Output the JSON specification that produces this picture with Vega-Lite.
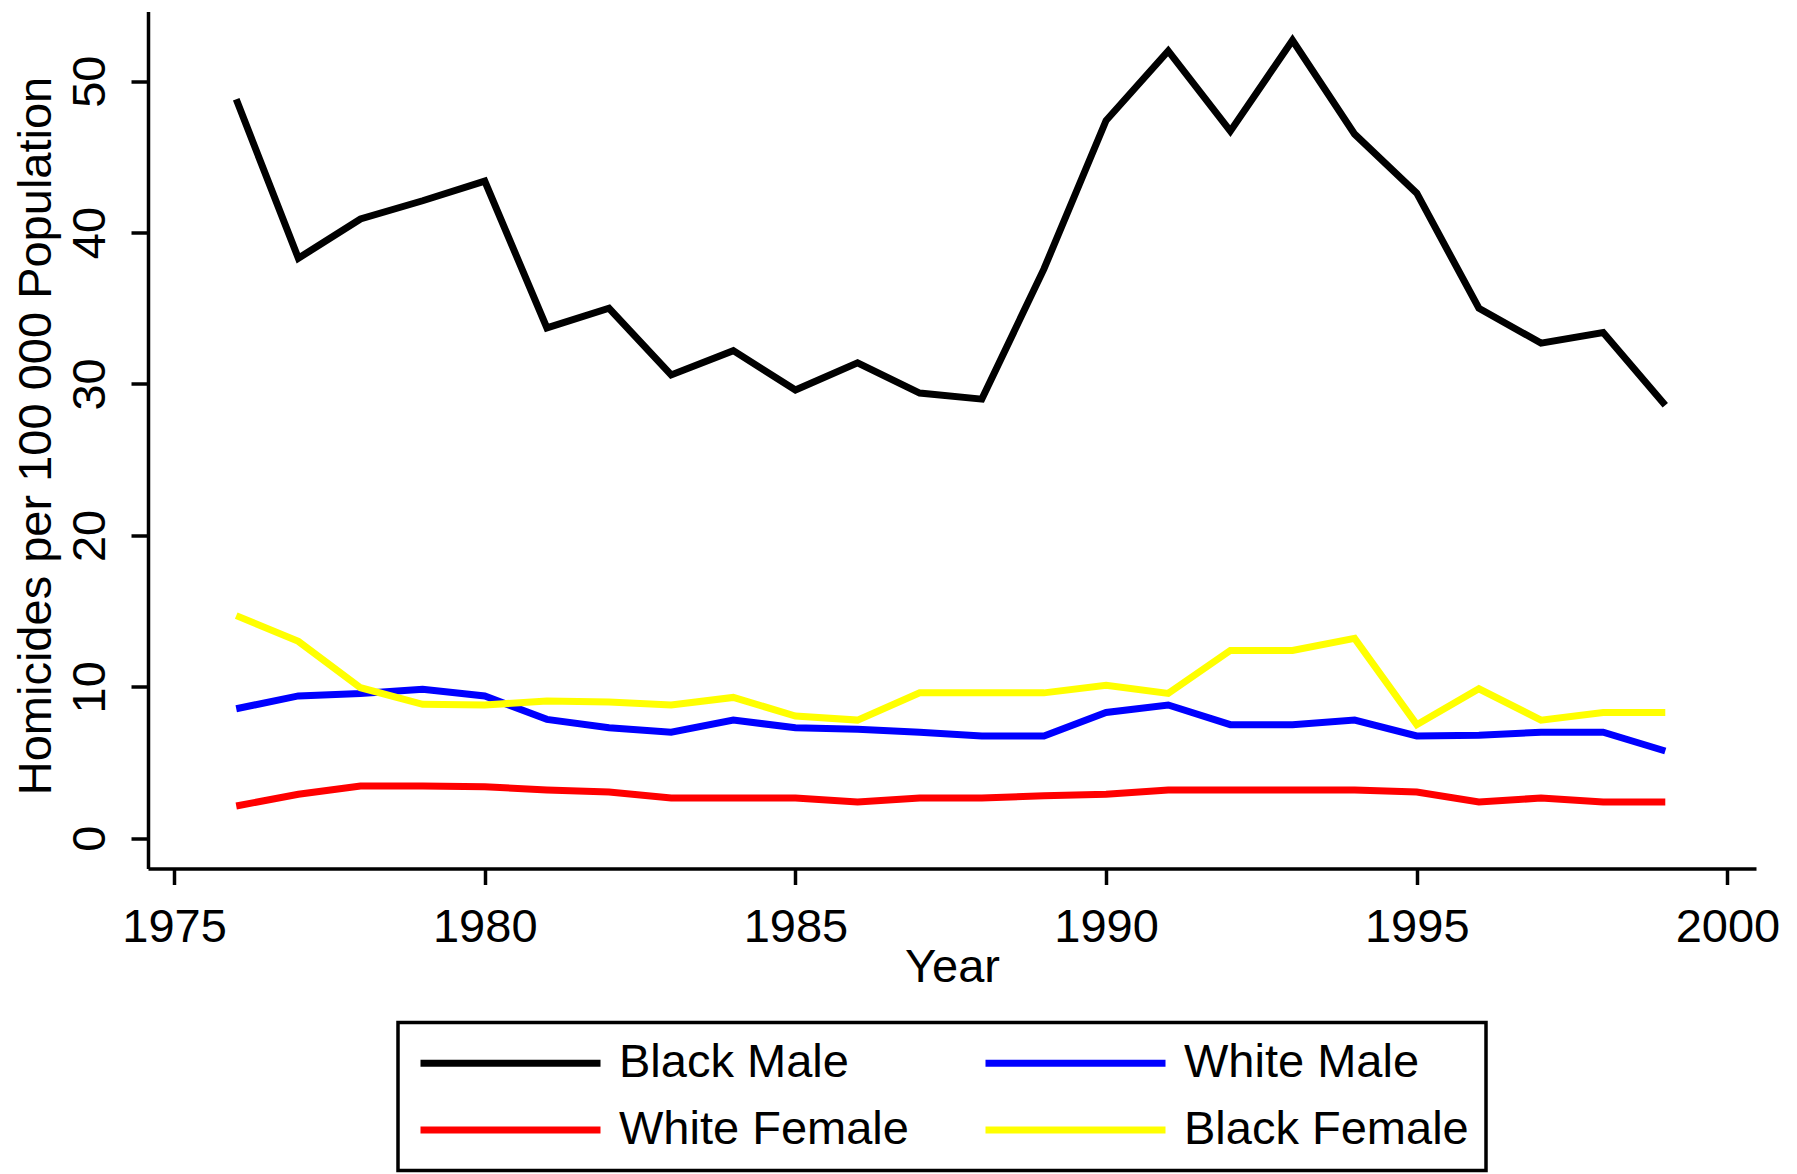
{
  "$schema": "https://vega.github.io/schema/vega-lite/v6.json",
  "autosize": {"type": "none"},
  "padding": {"left": 148, "top": 11.5, "right": 41, "bottom": 305.5},
  "width": 1608,
  "height": 857,
  "background": "white",
  "config": {
    "view": {"stroke": null},
    "font": "Liberation Sans",
    "axis": {"grid": false, "domainColor": "black", "tickColor": "black", "labelColor": "black", "titleColor": "black", "domainWidth": 3.5, "tickWidth": 3.5, "labelFont": "Liberation Sans", "titleFont": "Liberation Sans", "labelFontSize": 47, "titleFontSize": 47, "titleFontWeight": "normal"},
    "legend": {"strokeWidth": 3.5}
  },
  "data": {"values": [
    {"year": 1976, "group": "Black Male", "value": 48.8},
    {"year": 1977, "group": "Black Male", "value": 38.3},
    {"year": 1978, "group": "Black Male", "value": 40.9},
    {"year": 1979, "group": "Black Male", "value": 42.1},
    {"year": 1980, "group": "Black Male", "value": 43.4},
    {"year": 1981, "group": "Black Male", "value": 33.7},
    {"year": 1982, "group": "Black Male", "value": 35.0},
    {"year": 1983, "group": "Black Male", "value": 30.6},
    {"year": 1984, "group": "Black Male", "value": 32.2},
    {"year": 1985, "group": "Black Male", "value": 29.6},
    {"year": 1986, "group": "Black Male", "value": 31.4},
    {"year": 1987, "group": "Black Male", "value": 29.4},
    {"year": 1988, "group": "Black Male", "value": 29.0},
    {"year": 1989, "group": "Black Male", "value": 37.6},
    {"year": 1990, "group": "Black Male", "value": 47.4},
    {"year": 1991, "group": "Black Male", "value": 52.0},
    {"year": 1992, "group": "Black Male", "value": 46.7},
    {"year": 1993, "group": "Black Male", "value": 52.7},
    {"year": 1994, "group": "Black Male", "value": 46.5},
    {"year": 1995, "group": "Black Male", "value": 42.6},
    {"year": 1996, "group": "Black Male", "value": 35.0},
    {"year": 1997, "group": "Black Male", "value": 32.7},
    {"year": 1998, "group": "Black Male", "value": 33.4},
    {"year": 1999, "group": "Black Male", "value": 28.6},
    {"year": 1976, "group": "White Male", "value": 8.55},
    {"year": 1977, "group": "White Male", "value": 9.4},
    {"year": 1978, "group": "White Male", "value": 9.56},
    {"year": 1979, "group": "White Male", "value": 9.83},
    {"year": 1980, "group": "White Male", "value": 9.39},
    {"year": 1981, "group": "White Male", "value": 7.85},
    {"year": 1982, "group": "White Male", "value": 7.3},
    {"year": 1983, "group": "White Male", "value": 7.0},
    {"year": 1984, "group": "White Male", "value": 7.8},
    {"year": 1985, "group": "White Male", "value": 7.3},
    {"year": 1986, "group": "White Male", "value": 7.19},
    {"year": 1987, "group": "White Male", "value": 7.0},
    {"year": 1988, "group": "White Male", "value": 6.75},
    {"year": 1989, "group": "White Male", "value": 6.75},
    {"year": 1990, "group": "White Male", "value": 8.3},
    {"year": 1991, "group": "White Male", "value": 8.8},
    {"year": 1992, "group": "White Male", "value": 7.5},
    {"year": 1993, "group": "White Male", "value": 7.5},
    {"year": 1994, "group": "White Male", "value": 7.8},
    {"year": 1995, "group": "White Male", "value": 6.75},
    {"year": 1996, "group": "White Male", "value": 6.8},
    {"year": 1997, "group": "White Male", "value": 7.0},
    {"year": 1998, "group": "White Male", "value": 7.0},
    {"year": 1999, "group": "White Male", "value": 5.76},
    {"year": 1976, "group": "White Female", "value": 2.13},
    {"year": 1977, "group": "White Female", "value": 2.9},
    {"year": 1978, "group": "White Female", "value": 3.45},
    {"year": 1979, "group": "White Female", "value": 3.45},
    {"year": 1980, "group": "White Female", "value": 3.4},
    {"year": 1981, "group": "White Female", "value": 3.18},
    {"year": 1982, "group": "White Female", "value": 3.05},
    {"year": 1983, "group": "White Female", "value": 2.65},
    {"year": 1984, "group": "White Female", "value": 2.65},
    {"year": 1985, "group": "White Female", "value": 2.65},
    {"year": 1986, "group": "White Female", "value": 2.4},
    {"year": 1987, "group": "White Female", "value": 2.65},
    {"year": 1988, "group": "White Female", "value": 2.65},
    {"year": 1989, "group": "White Female", "value": 2.8},
    {"year": 1990, "group": "White Female", "value": 2.9},
    {"year": 1991, "group": "White Female", "value": 3.18},
    {"year": 1992, "group": "White Female", "value": 3.18},
    {"year": 1993, "group": "White Female", "value": 3.18},
    {"year": 1994, "group": "White Female", "value": 3.18},
    {"year": 1995, "group": "White Female", "value": 3.05},
    {"year": 1996, "group": "White Female", "value": 2.4},
    {"year": 1997, "group": "White Female", "value": 2.65},
    {"year": 1998, "group": "White Female", "value": 2.4},
    {"year": 1999, "group": "White Female", "value": 2.4},
    {"year": 1976, "group": "Black Female", "value": 14.7},
    {"year": 1977, "group": "Black Female", "value": 13.0},
    {"year": 1978, "group": "Black Female", "value": 9.94},
    {"year": 1979, "group": "Black Female", "value": 8.84},
    {"year": 1980, "group": "Black Female", "value": 8.8},
    {"year": 1981, "group": "Black Female", "value": 9.06},
    {"year": 1982, "group": "Black Female", "value": 9.0},
    {"year": 1983, "group": "Black Female", "value": 8.8},
    {"year": 1984, "group": "Black Female", "value": 9.3},
    {"year": 1985, "group": "Black Female", "value": 8.07},
    {"year": 1986, "group": "Black Female", "value": 7.8},
    {"year": 1987, "group": "Black Female", "value": 9.6},
    {"year": 1988, "group": "Black Female", "value": 9.6},
    {"year": 1989, "group": "Black Female", "value": 9.6},
    {"year": 1990, "group": "Black Female", "value": 10.1},
    {"year": 1991, "group": "Black Female", "value": 9.56},
    {"year": 1992, "group": "Black Female", "value": 12.4},
    {"year": 1993, "group": "Black Female", "value": 12.4},
    {"year": 1994, "group": "Black Female", "value": 13.2},
    {"year": 1995, "group": "Black Female", "value": 7.5},
    {"year": 1996, "group": "Black Female", "value": 9.87},
    {"year": 1997, "group": "Black Female", "value": 7.8},
    {"year": 1998, "group": "Black Female", "value": 8.3},
    {"year": 1999, "group": "Black Female", "value": 8.3}
  ]},
  "mark": {"type": "line", "strokeWidth": 7, "strokeCap": "butt", "strokeJoin": "miter"},
  "encoding": {
    "x": {
      "field": "year", "type": "quantitative",
      "scale": {"domain": [1974.58, 2000.46], "nice": false, "zero": false},
      "axis": {"title": "Year", "values": [1975, 1980, 1985, 1990, 1995, 2000], "format": "d", "tickSize": 16, "labelPadding": 20, "labelBaseline": "top", "titleY": 113, "titleBaseline": "alphabetic", "labelFlush": false, "labelOverlap": false}
    },
    "y": {
      "field": "value", "type": "quantitative",
      "scale": {"domain": [-2, 54.6], "nice": false, "zero": false},
      "axis": {"title": "Homicides per 100 000 Population", "values": [0, 10, 20, 30, 40, 50], "tickSize": 17, "labelAngle": -90, "labelAlign": "center", "labelBaseline": "alphabetic", "labelPadding": 27, "titleAngle": -90, "titleX": -98, "titleY": 424, "titleAlign": "center", "titleBaseline": "alphabetic", "labelFlush": false, "labelOverlap": false}
    },
    "color": {
      "field": "group", "type": "nominal",
      "scale": {"domain": ["Black Male", "White Male", "White Female", "Black Female"], "range": ["#000000", "#0000FF", "#FF0000", "#FFFF00"]},
      "legend": {"orient": "none", "legendX": 250, "legendY": 1011, "direction": "horizontal", "columns": 2, "title": null, "symbolType": "M-1,0H9", "symbolSize": 1296, "symbolStrokeWidth": 7, "labelFontSize": 47, "labelFont": "Liberation Sans", "labelColor": "black", "labelOffset": 157, "labelLimit": 0, "columnPadding": 62, "rowPadding": 19, "padding": 17, "strokeColor": "black"}
    },
    "order": {"field": "year"}
  }
}
